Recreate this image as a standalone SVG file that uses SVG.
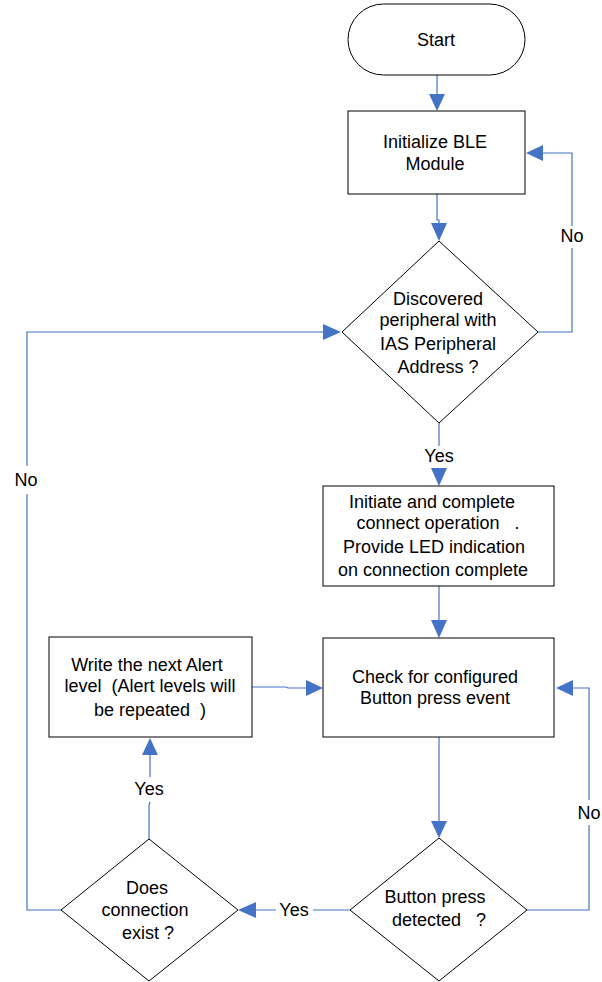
<svg xmlns="http://www.w3.org/2000/svg" width="602" height="982" viewBox="0 0 602 982">
<defs>
<style>
.shape{fill:#fff;stroke:#000;stroke-width:1}
.t{font-family:"Liberation Sans",Arial,sans-serif;font-size:18px;fill:#000;text-anchor:middle}
.c{fill:none;stroke:#4472C4;stroke-width:1.2}
.ah{fill:#4472C4}
</style>
</defs>
<rect width="602" height="982" fill="#fff"/>
<g id="connectors">
<!-- start -> init -->
<path class="c" d="M437,75 V95"/>
<polygon class="ah" points="429,94 445,94 437,111"/>
<!-- init -> decision1 -->
<path class="c" d="M437,194 V220 H439 V224"/>
<polygon class="ah" points="431,223 447,223 439,241"/>
<!-- decision1 No -> init -->
<path class="c" d="M538,332 H572 V248 M572,226 V153 H542"/>
<polygon class="ah" points="543,145 543,161 526,153"/>
<!-- decision1 Yes -> connect -->
<path class="c" d="M439,423 V446 M439,468 V470"/>
<polygon class="ah" points="431,468 447,468 439,486"/>
<!-- connect -> check -->
<path class="c" d="M439,586 V621"/>
<polygon class="ah" points="431,620 447,620 439,638"/>
<!-- write -> check -->
<path class="c" d="M252,687 H286 L288,688 H307"/>
<polygon class="ah" points="306,680 306,696 323,688"/>
<!-- check -> decision2 -->
<path class="c" d="M439,737 V822"/>
<polygon class="ah" points="431,821 447,821 439,838"/>
<!-- decision2 No -> check -->
<path class="c" d="M527,910 H589 V825 M589,800 V688 H572"/>
<polygon class="ah" points="573,680 573,696 556,688"/>
<!-- decision2 Yes -> decision3 -->
<path class="c" d="M350,910 H313 M276,910 H255"/>
<polygon class="ah" points="256,902 256,918 238,910"/>
<!-- decision3 Yes -> write -->
<path class="c" d="M149,839 V805 L150,802 M150,777 V755"/>
<polygon class="ah" points="142,755 158,755 150,738"/>
<!-- decision3 No -> decision1 -->
<path class="c" d="M61,910 H27 V494 M27,466 V332 H324"/>
<polygon class="ah" points="323,324 323,340 341,332"/>
</g>
<g id="start">
<rect class="shape" x="348" y="4" width="177" height="71" rx="35.5"/>
<text class="t" x="436" y="46">Start</text>
</g>
<g id="init">
<rect class="shape" x="348" y="111" width="177" height="83"/>
<text class="t" x="435" y="148">Initialize BLE</text>
<text class="t" x="435" y="170">Module</text>
</g>
<g id="decision1">
<polygon class="shape" points="439,241 538,332 439,423 342,332"/>
<text class="t" x="438" y="305">Discovered</text>
<text class="t" x="438" y="326">peripheral with</text>
<text class="t" x="438" y="350">IAS Peripheral</text>
<text class="t" x="438" y="373">Address ?</text>
</g>
<g id="connect">
<rect class="shape" x="323" y="486" width="231" height="100"/>
<text class="t" x="432" y="508">Initiate and complete</text>
<text class="t" x="438" y="529" xml:space="preserve">connect operation   .</text>
<text class="t" x="434" y="553">Provide LED indication</text>
<text class="t" x="433" y="576">on connection complete</text>
</g>
<g id="check">
<rect class="shape" x="323" y="638" width="231" height="99"/>
<text class="t" x="435" y="683">Check for configured</text>
<text class="t" x="435" y="704">Button press event</text>
</g>
<g id="write">
<rect class="shape" x="49" y="637" width="203" height="100"/>
<text class="t" x="147" y="671">Write the next Alert</text>
<text class="t" x="150" y="692" xml:space="preserve">level  (Alert levels will</text>
<text class="t" x="150" y="716" xml:space="preserve">be repeated  )</text>
</g>
<g id="decision2">
<polygon class="shape" points="439,838 527,910 439,981 350,910"/>
<text class="t" x="435" y="903">Button press</text>
<text class="t" x="439" y="926" xml:space="preserve">detected   ?</text>
</g>
<g id="decision3">
<polygon class="shape" points="149,839 238,910 149,981 61,910"/>
<text class="t" x="147" y="894">Does</text>
<text class="t" x="145" y="916">connection</text>
<text class="t" x="148" y="939">exist ?</text>
</g>
<g id="labels">
<text class="t" x="572" y="242">No</text>
<text class="t" x="439" y="462">Yes</text>
<text class="t" x="589" y="819">No</text>
<text class="t" x="294" y="916">Yes</text>
<text class="t" x="149" y="795">Yes</text>
<text class="t" x="26" y="486">No</text>
</g>
</svg>
